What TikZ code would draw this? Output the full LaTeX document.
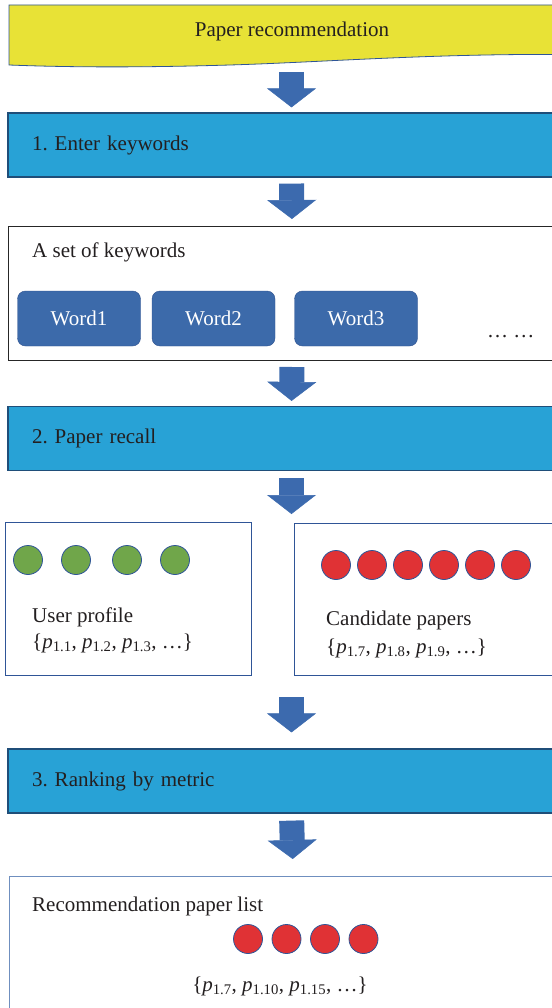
\documentclass[tikz,border=0pt]{standalone}
\usepackage{fontspec}
\setmainfont{Liberation Serif}
\usetikzlibrary{arrows.meta,calc}
\frenchspacing
\definecolor{stepblue}{HTML}{28A2D6}
\definecolor{stepline}{HTML}{1F4E79}
\definecolor{arrowblue}{HTML}{3C6AAE}
\definecolor{wordblue}{HTML}{3C6AAA}
\definecolor{wordline}{HTML}{2F528F}
\definecolor{docyellow}{HTML}{E8E236}
\definecolor{ringblue}{HTML}{2F5597}
\definecolor{dotgreen}{HTML}{70A64A}
\definecolor{dotred}{HTML}{E03235}
\definecolor{listline}{HTML}{6F8FBF}
\definecolor{inktext}{HTML}{231F20}
\tikzstyle{stepbox}=[draw=stepline, line width=1.2pt, fill=stepblue, minimum width=567pt, minimum height=64pt, text width=519pt, inner xsep=24pt, inner ysep=0pt, align=left, text=inktext]
\tikzstyle{panel}=[draw, inner sep=0pt, anchor=north west]
\tikzstyle{wordbox}=[draw=wordline, fill=wordblue, rounded corners=8pt, minimum width=123pt, minimum height=55pt, text=white, inner sep=0pt]
\tikzstyle{dot}=[circle, draw=ringblue, line width=0.8pt, minimum size=29pt, inner sep=0pt]
\tikzstyle{caption}=[anchor=base west, inner sep=0pt, text=inktext]
\tikzstyle{blockarrow}=[draw=arrowblue, line width=25pt, -{Triangle[width=49pt,length=19pt,line width=0.5pt]}]
\newcommand{\pp}[1]{\textit{p}\textsubscript{#1}}

\begin{document}
\begin{tikzpicture}[x=1pt, y=-1pt, font=\fontsize{21}{25}\selectfont]

    \useasboundingbox (0,0) rectangle (551,1008);

    % document shape on top
    \draw[draw=ringblue, fill=docyellow, line width=0.8pt] (9,5) -- (600,5) -- (600,55)
        .. controls (450,52) and (330,62) .. (230,65) .. controls (130,68) and (60,67) .. (9,65) -- cycle;
    \node[inner sep=0pt, anchor=base, text=inktext] (title) at (292,37) {Paper recommendation};
    \coordinate (titleend) at (291.5,64);

    \node[stepbox] (enter) at (291.5,145) {1. Enter keywords};

    \node[panel, draw=black!85, line width=1pt, minimum width=567pt, minimum height=134pt] (keys) at (8,226) {};
    \node[caption] (keystitle) at (32,258) {A set of keywords};
    \foreach \x/\n in {79/1, 213.5/2, 356/3}
        \node[wordbox] (word\n) at (\x,318.5) {Word\n};
    \node[caption] (more) at (487,337) {\ldots\ \ldots};

    \node[stepbox] (recall) at (291.5,438.5) {2. Paper recall};

    \node[panel, draw=ringblue, minimum width=246pt, minimum height=153pt] (user) at (5,522) {};
    \node[panel, draw=ringblue, minimum width=270pt, minimum height=152pt] (cand) at (294,523) {};
    \coordinate (rowtop) at (291.5,522);
    \coordinate (rowbottom) at (291.5,675);

    \foreach \x [count=\i] in {28,76,127,175}
        \node[dot, fill=dotgreen] (g\i) at (\x,560) {};
    \foreach \i in {1,...,6}
        \node[dot, fill=dotred] (r\i) at (300+36*\i,565) {};

    \node[caption] (usertxt) at (32,622) {User profile};
    \node[caption] (userset) at (32,648) {\{\pp{1.1}, \pp{1.2}, \pp{1.3}, \ldots\}};
    \node[caption] (candtxt) at (326,625) {Candidate papers};
    \node[caption] (candset) at (326,653) {\{\pp{1.7}, \pp{1.8}, \pp{1.9}, \ldots\}};

    \node[stepbox] (rank) at (291.5,781) {3. Ranking by metric};

    \node[panel, draw=listline, line width=1.2pt, minimum width=567pt, minimum height=160pt] (list) at (9,876) {};
    \node[caption] (listtxt) at (32,911) {Recommendation paper list};
    \foreach \x [count=\i] in {248,286.5,325,363.5}
        \node[dot, fill=dotred] (f\i) at (\x,939) {};
    \node[inner sep=0pt, anchor=base, text=inktext] (listset) at (280,991) {\{\pp{1.7}, \pp{1.10}, \pp{1.15}, \ldots\}};

    % block arrows between the stages
    \foreach \a/\b/\s/\e in {titleend/enter.north/8/5, enter.south/keys.north/6/7, keys.south/recall.north/6/5,
                             recall.south/rowtop/7/8, rowbottom/rank.north/22/16, rank.south/list.north/7/17}
        \draw[blockarrow, shorten <=\s pt, shorten >=\e pt] (\a) -- (\b);

\end{tikzpicture}
\end{document}
